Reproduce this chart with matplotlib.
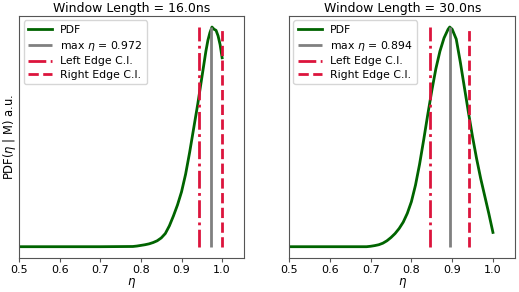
import matplotlib
matplotlib.use("Agg")
import matplotlib.pyplot as plt
import numpy as np

# window 16.0 ns
eta_16 = [0.40, 0.50, 0.60, 0.70, 0.78, 0.79, 0.80, 0.81, 0.82, 0.83, 0.84,
          0.85, 0.86, 0.87, 0.88, 0.89, 0.90, 0.91, 0.92, 0.93, 0.94,
          0.95, 0.96, 0.965, 0.97, 0.975, 0.98, 0.985, 0.99, 0.995, 1.00]
pdf_16 = [0.0, 0.0, 0.0, 0.0, 0.001, 0.003, 0.006, 0.009, 0.013, 0.019, 0.027,
          0.040, 0.060, 0.095, 0.14, 0.19, 0.25, 0.33, 0.43, 0.54, 0.65,
          0.77, 0.89, 0.94, 0.975, 1.0, 0.99, 0.985, 0.96, 0.92, 0.86]
max_16, left_16, right_16 = 0.972, 0.944, 1.0

# window 30.0 ns
eta_30 = [0.40, 0.50, 0.60, 0.69, 0.70, 0.71, 0.72, 0.73, 0.74, 0.75, 0.76,
          0.77, 0.78, 0.79, 0.80, 0.81, 0.82, 0.83, 0.84, 0.85, 0.86,
          0.87, 0.88, 0.89, 0.894, 0.90, 0.91, 0.92, 0.93, 0.94, 0.95,
          0.96, 0.97, 0.98, 0.99, 1.00]
pdf_30 = [0.0, 0.0, 0.0, 0.0, 0.002, 0.005, 0.009, 0.016, 0.027, 0.042, 0.060,
          0.083, 0.112, 0.152, 0.205, 0.280, 0.375, 0.485, 0.600, 0.710, 0.810,
          0.890, 0.950, 0.99, 1.0, 0.99, 0.945, 0.84, 0.725, 0.61, 0.50,
          0.40, 0.31, 0.23, 0.15, 0.065]
max_30, left_30, right_30 = 0.894, 0.845, 0.942

panels = [
    (16.0, eta_16, pdf_16, max_16, left_16, right_16),
    (30.0, eta_30, pdf_30, max_30, left_30, right_30),
]

fig = plt.figure(figsize=(5.19, 2.92), dpi=100)
positions = [[0.037, 0.1175, 0.434, 0.8275], [0.557, 0.1175, 0.436, 0.8275]]

for i, (w, eta, pdf, m, le, re) in enumerate(panels):
    ax = fig.add_axes(positions[i])
    pdf = np.array(pdf)
    top = pdf.max()
    ax.plot(eta, pdf, color="darkgreen", lw=2, label="PDF")
    ax.vlines(m, 0, top, color="gray", lw=2, label=rf"max $\eta$ = {m}")
    ax.vlines(le, 0, top, color="crimson", lw=2, linestyles="-.", label="Left Edge C.I.")
    ax.vlines(re, 0, top, color="crimson", lw=2, linestyles="--", label="Right Edge C.I.")
    ax.set_xlim(0.5, 1.055)
    ax.set_ylim(-0.05 * top, 1.05 * top)
    ax.set_yticks([])
    ax.set_xticks([0.5, 0.6, 0.7, 0.8, 0.9, 1.0])
    ax.tick_params(axis="x", labelsize=8, pad=2, length=3, color="#555555")
    for s in ax.spines.values():
        s.set_color("#555555")
        s.set_linewidth(0.8)
    ax.set_xlabel(r"$\eta$", fontsize=8.5, labelpad=1)
    ax.set_title(f"Window Length = {w}ns", fontsize=9, pad=3)
    ax.legend(loc="upper left", fontsize=7.8, handlelength=2.2, borderaxespad=0.4,
              labelspacing=0.35, handletextpad=0.8)
    if i == 0:
        ax.set_ylabel(r"PDF($\eta$ | M) a.u.", fontsize=8.3, labelpad=1)

fig.savefig("out.png", dpi=100)
